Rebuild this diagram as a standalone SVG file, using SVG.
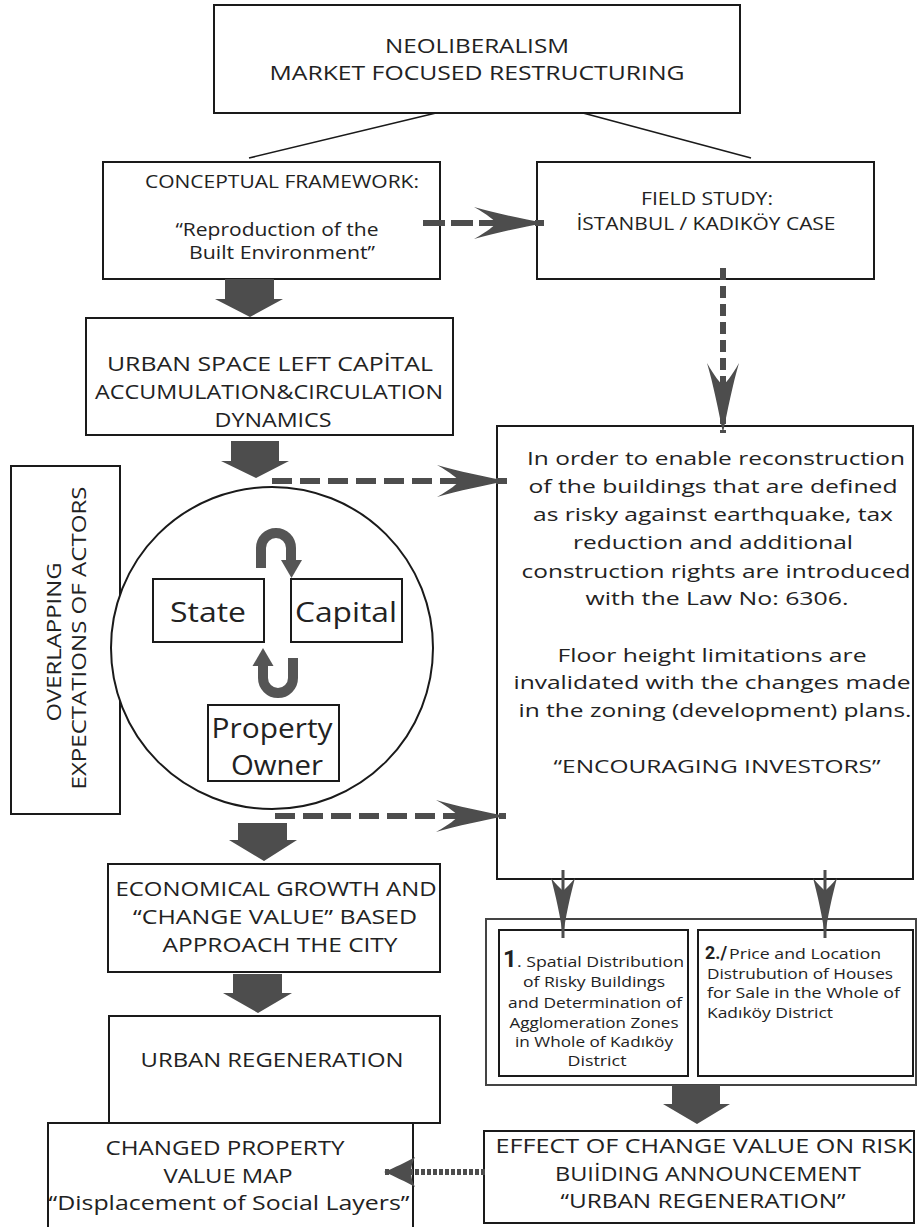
<svg xmlns="http://www.w3.org/2000/svg" width="918" height="1227" viewBox="0 0 918 1227">
<style>
.box{fill:#fff;stroke:#1a1a1a;stroke-width:2}
.t{font-family:"Open Sans","Liberation Sans",sans-serif;fill:#222;text-anchor:middle}
.s20{font-size:20px}
.s18{font-size:18px}
.s19{font-size:19px}
.s15{font-size:15px}
.l{text-anchor:start}
.blk{fill:#4d4d4d}
.dash{fill:none;stroke:#4d4d4d;stroke-width:6}
</style>
<defs>
<marker id="barbL" markerUnits="userSpaceOnUse" markerWidth="70" markerHeight="32" viewBox="0 0 70 32" refX="70" refY="16" orient="auto"><path d="M70,16 C50,12 20,6 0,0 C14,8 20,13 22,16 C20,19 14,24 0,32 C20,26 50,20 70,16 Z" fill="#4d4d4d"/></marker>
<marker id="barbS" markerUnits="userSpaceOnUse" markerWidth="32" markerHeight="30" viewBox="0 0 32 30" refX="32" refY="15" orient="auto"><path d="M32,15 C22,11 10,5 1,0 C4,6 5,11 5,15 C5,19 4,24 1,30 C10,25 22,19 32,15 Z" fill="#4d4d4d"/></marker>
<marker id="barbT" markerUnits="userSpaceOnUse" markerWidth="60" markerHeight="24" viewBox="0 0 60 24" refX="60" refY="12" orient="auto"><path d="M60,12 C40,10 15,4 0,0 C6,5 10,9 13,12 C10,15 6,19 0,24 C15,20 40,14 60,12 Z" fill="#4d4d4d"/></marker>
</defs>
<rect width="918" height="1227" fill="#fff"/>

<g id="neoliberalism">
<rect class="box" x="214" y="5" width="526" height="108"/>
<text class="t s20" x="477" y="53" textLength="184" lengthAdjust="spacingAndGlyphs">NEOLIBERALISM</text>
<text class="t s20" x="477" y="80" textLength="415" lengthAdjust="spacingAndGlyphs">MARKET FOCUSED RESTRUCTURING</text>
</g>

<g id="conceptual">
<rect class="box" x="103" y="162" width="337" height="117"/>
<text class="t s18" x="282" y="188" textLength="274" lengthAdjust="spacingAndGlyphs">CONCEPTUAL FRAMEWORK:</text>
<text class="t s18" x="277" y="236" textLength="203" lengthAdjust="spacingAndGlyphs">“Reproduction of the</text>
<text class="t s18" x="282" y="259" textLength="186" lengthAdjust="spacingAndGlyphs">Built Environment”</text>
</g>

<g id="fieldstudy">
<rect class="box" x="537" y="162" width="337" height="117"/>
<text class="t s18" x="707" y="205" textLength="132" lengthAdjust="spacingAndGlyphs">FIELD STUDY:</text>
<text class="t s18" x="706" y="230" textLength="259" lengthAdjust="spacingAndGlyphs">İSTANBUL / KADIKÖY CASE</text>
</g>

<g id="urbanspace">
<rect class="box" x="86" y="318" width="367" height="117"/>
<text class="t s20" x="270" y="371" textLength="326" lengthAdjust="spacingAndGlyphs">URBAN SPACE LEFT CAPİTAL</text>
<text class="t s20" x="269" y="399" textLength="348" lengthAdjust="spacingAndGlyphs">ACCUMULATION&amp;CIRCULATION</text>
<text class="t s20" x="273" y="427" textLength="117" lengthAdjust="spacingAndGlyphs">DYNAMICS</text>
</g>

<g id="overlapping">
<rect class="box" x="11" y="466" width="109" height="348"/>
<text class="t s20" transform="rotate(-90)" x="-642" y="61" textLength="159" lengthAdjust="spacingAndGlyphs">OVERLAPPING</text>
<text class="t s20" transform="rotate(-90)" x="-638" y="86" textLength="303" lengthAdjust="spacingAndGlyphs">EXPECTATIONS OF ACTORS</text>
</g>

<g id="actors">
<circle cx="272" cy="648" r="161" fill="#fff" stroke="#1a1a1a" stroke-width="2"/>
<path d="M261,568 V548 A15,15 0 0 1 291,548 V561" fill="none" stroke="#555" stroke-width="10"/>
<polygon points="281,560 302,560 291.5,578" fill="#555"/>
<path d="M293,658 V678 A15,15 0 0 1 263,678 V665" fill="none" stroke="#555" stroke-width="10"/>
<polygon points="252.5,666 273.5,666 263,648" fill="#555"/>
</g>

<g id="state">
<rect class="box" x="153" y="579" width="111" height="63"/>
<text class="t" style="font-size:28px" x="208" y="622" textLength="76" lengthAdjust="spacingAndGlyphs">State</text>
</g>

<g id="capital">
<rect class="box" x="291" y="579" width="111" height="63"/>
<text class="t" style="font-size:28px" x="346" y="622" textLength="102" lengthAdjust="spacingAndGlyphs">Capital</text>
</g>

<g id="propertyowner">
<rect class="box" x="208" y="705" width="131" height="76"/>
<text class="t" style="font-size:28px" x="272" y="738" textLength="121" lengthAdjust="spacingAndGlyphs">Property</text>
<text class="t" style="font-size:28px" x="277" y="775" textLength="92" lengthAdjust="spacingAndGlyphs">Owner</text>
</g>

<g id="law6306">
<rect class="box" x="497" y="426" width="416" height="453"/>
<text class="t s19" x="716" y="465" textLength="378" lengthAdjust="spacingAndGlyphs">In order to enable reconstruction</text>
<text class="t s19" x="713" y="493" textLength="369" lengthAdjust="spacingAndGlyphs">of the buildings that are defined</text>
<text class="t s19" x="713" y="521" textLength="360" lengthAdjust="spacingAndGlyphs">as risky against earthquake, tax</text>
<text class="t s19" x="713" y="549" textLength="280" lengthAdjust="spacingAndGlyphs">reduction and additional</text>
<text class="t s19" x="716" y="578" textLength="389" lengthAdjust="spacingAndGlyphs">construction rights are introduced</text>
<text class="t s19" x="717" y="605" textLength="263" lengthAdjust="spacingAndGlyphs">with the Law No: 6306.</text>
<text class="t s19" x="712" y="662" textLength="309" lengthAdjust="spacingAndGlyphs">Floor height limitations are</text>
<text class="t s19" x="712" y="689" textLength="397" lengthAdjust="spacingAndGlyphs">invalidated with the changes made</text>
<text class="t s19" x="715" y="717" textLength="393" lengthAdjust="spacingAndGlyphs">in the zoning (development) plans.</text>
<text class="t s19" x="717" y="773" textLength="327" lengthAdjust="spacingAndGlyphs">“ENCOURAGING INVESTORS”</text>
</g>

<g id="studies">
<rect x="486" y="919" width="430" height="166" fill="none" stroke="#444" stroke-width="2"/>
</g>

<g id="study1">
<rect class="box" x="499" y="930" width="189" height="146"/>
<text class="t l" x="503" y="967" style="font-size:24px;font-weight:bold;font-family:'Roboto','Liberation Sans',sans-serif">1</text>
<text class="t l s15" x="517" y="967" textLength="167" lengthAdjust="spacingAndGlyphs">. Spatial Distribution</text>
<text class="t s15" x="594" y="987" textLength="142" lengthAdjust="spacingAndGlyphs">of Risky Buildings</text>
<text class="t s15" x="595" y="1008" textLength="174" lengthAdjust="spacingAndGlyphs">and Determination of</text>
<text class="t s15" x="594" y="1028" textLength="169" lengthAdjust="spacingAndGlyphs">Agglomeration Zones</text>
<text class="t s15" x="594" y="1047" textLength="158" lengthAdjust="spacingAndGlyphs">in Whole of Kadıköy</text>
<text class="t s15" x="597" y="1066" textLength="59" lengthAdjust="spacingAndGlyphs">District</text>
</g>

<g id="study2">
<rect class="box" x="698" y="930" width="215" height="146"/>
<text class="t l" x="705" y="959" style="font-size:18px;font-weight:bold;font-family:'Roboto','Liberation Sans',sans-serif" textLength="22" lengthAdjust="spacingAndGlyphs">2./</text>
<text class="t l" style="font-size:14px" x="729" y="959" textLength="152" lengthAdjust="spacingAndGlyphs">Price and Location</text>
<text class="t l s15" x="707" y="979" textLength="186" lengthAdjust="spacingAndGlyphs">Distrubution of Houses</text>
<text class="t l s15" x="707" y="998" textLength="193" lengthAdjust="spacingAndGlyphs">for Sale in the Whole of</text>
<text class="t l s15" x="707" y="1018" textLength="126" lengthAdjust="spacingAndGlyphs">Kadıköy District</text>
</g>

<g id="economical">
<rect class="box" x="108" y="864" width="332" height="108"/>
<text class="t s20" x="276" y="896" textLength="321" lengthAdjust="spacingAndGlyphs">ECONOMICAL GROWTH AND</text>
<text class="t s20" x="275" y="924" textLength="284" lengthAdjust="spacingAndGlyphs">“CHANGE VALUE” BASED</text>
<text class="t s20" x="280" y="952" textLength="235" lengthAdjust="spacingAndGlyphs">APPROACH THE CITY</text>
</g>

<g id="urbanregeneration">
<rect class="box" x="109" y="1016" width="331" height="107"/>
<text class="t s20" x="272" y="1067" textLength="263" lengthAdjust="spacingAndGlyphs">URBAN REGENERATION</text>
</g>

<g id="changedproperty">
<rect class="box" x="48" y="1123" width="365" height="120"/>
<text class="t s20" x="225" y="1155" textLength="239" lengthAdjust="spacingAndGlyphs">CHANGED PROPERTY</text>
<text class="t s20" x="228" y="1183" textLength="129" lengthAdjust="spacingAndGlyphs">VALUE MAP</text>
<text class="t s20" x="229" y="1210" textLength="361" lengthAdjust="spacingAndGlyphs">“Displacement of Social Layers”</text>
</g>

<g id="effect">
<rect class="box" x="484" y="1131" width="430" height="92"/>
<text class="t s20" x="704" y="1153" textLength="417" lengthAdjust="spacingAndGlyphs">EFFECT OF CHANGE VALUE ON RISK</text>
<text class="t s20" x="708" y="1181" textLength="306" lengthAdjust="spacingAndGlyphs">BUIİDING ANNOUNCEMENT</text>
<text class="t s20" x="703" y="1208" textLength="285" lengthAdjust="spacingAndGlyphs">“URBAN REGENERATION”</text>
</g>

<g id="connectors">
<line x1="436" y1="113" x2="249" y2="158" stroke="#1a1a1a" stroke-width="1.6"/>
<line x1="583" y1="113" x2="751" y2="158" stroke="#1a1a1a" stroke-width="1.6"/>
<line class="dash" x1="423" y1="223" x2="544" y2="223" stroke-dasharray="22 6" marker-end="url(#barbL)"/>
<line class="dash" x1="723" y1="268" x2="723" y2="433" stroke-width="5" stroke-dasharray="12 6" marker-end="url(#barbL)"/>
<line class="dash" x1="272" y1="481" x2="507" y2="481" stroke-dasharray="20 8" marker-end="url(#barbL)"/>
<line class="dash" x1="275" y1="816" x2="506" y2="816" stroke-dasharray="20 8" marker-end="url(#barbL)"/>
<line class="dash" x1="485" y1="1172" x2="384" y2="1172" stroke-width="5" stroke-dasharray="4 2" marker-end="url(#barbS)"/>
<line x1="563" y1="870" x2="563" y2="938" stroke="#4d4d4d" stroke-width="3" marker-end="url(#barbT)"/>
<line x1="825" y1="870" x2="825" y2="938" stroke="#4d4d4d" stroke-width="3" marker-end="url(#barbT)"/>
<polygon class="blk" points="225,279 274,279 274,299 283,299 250,317 215,299 225,299"/>
<polygon class="blk" points="231,441 279,441 279,461 289,461 256,478 221,461 231,461"/>
<polygon class="blk" points="238,823 287,823 287,840 297,840 264,861 229,840 238,840"/>
<polygon class="blk" points="233,974 282,974 282,993 292,993 258,1013 223,993 233,993"/>
<polygon class="blk" points="672,1085 720,1085 720,1104 730,1104 697,1124 663,1104 672,1104"/>
</g>
</svg>
